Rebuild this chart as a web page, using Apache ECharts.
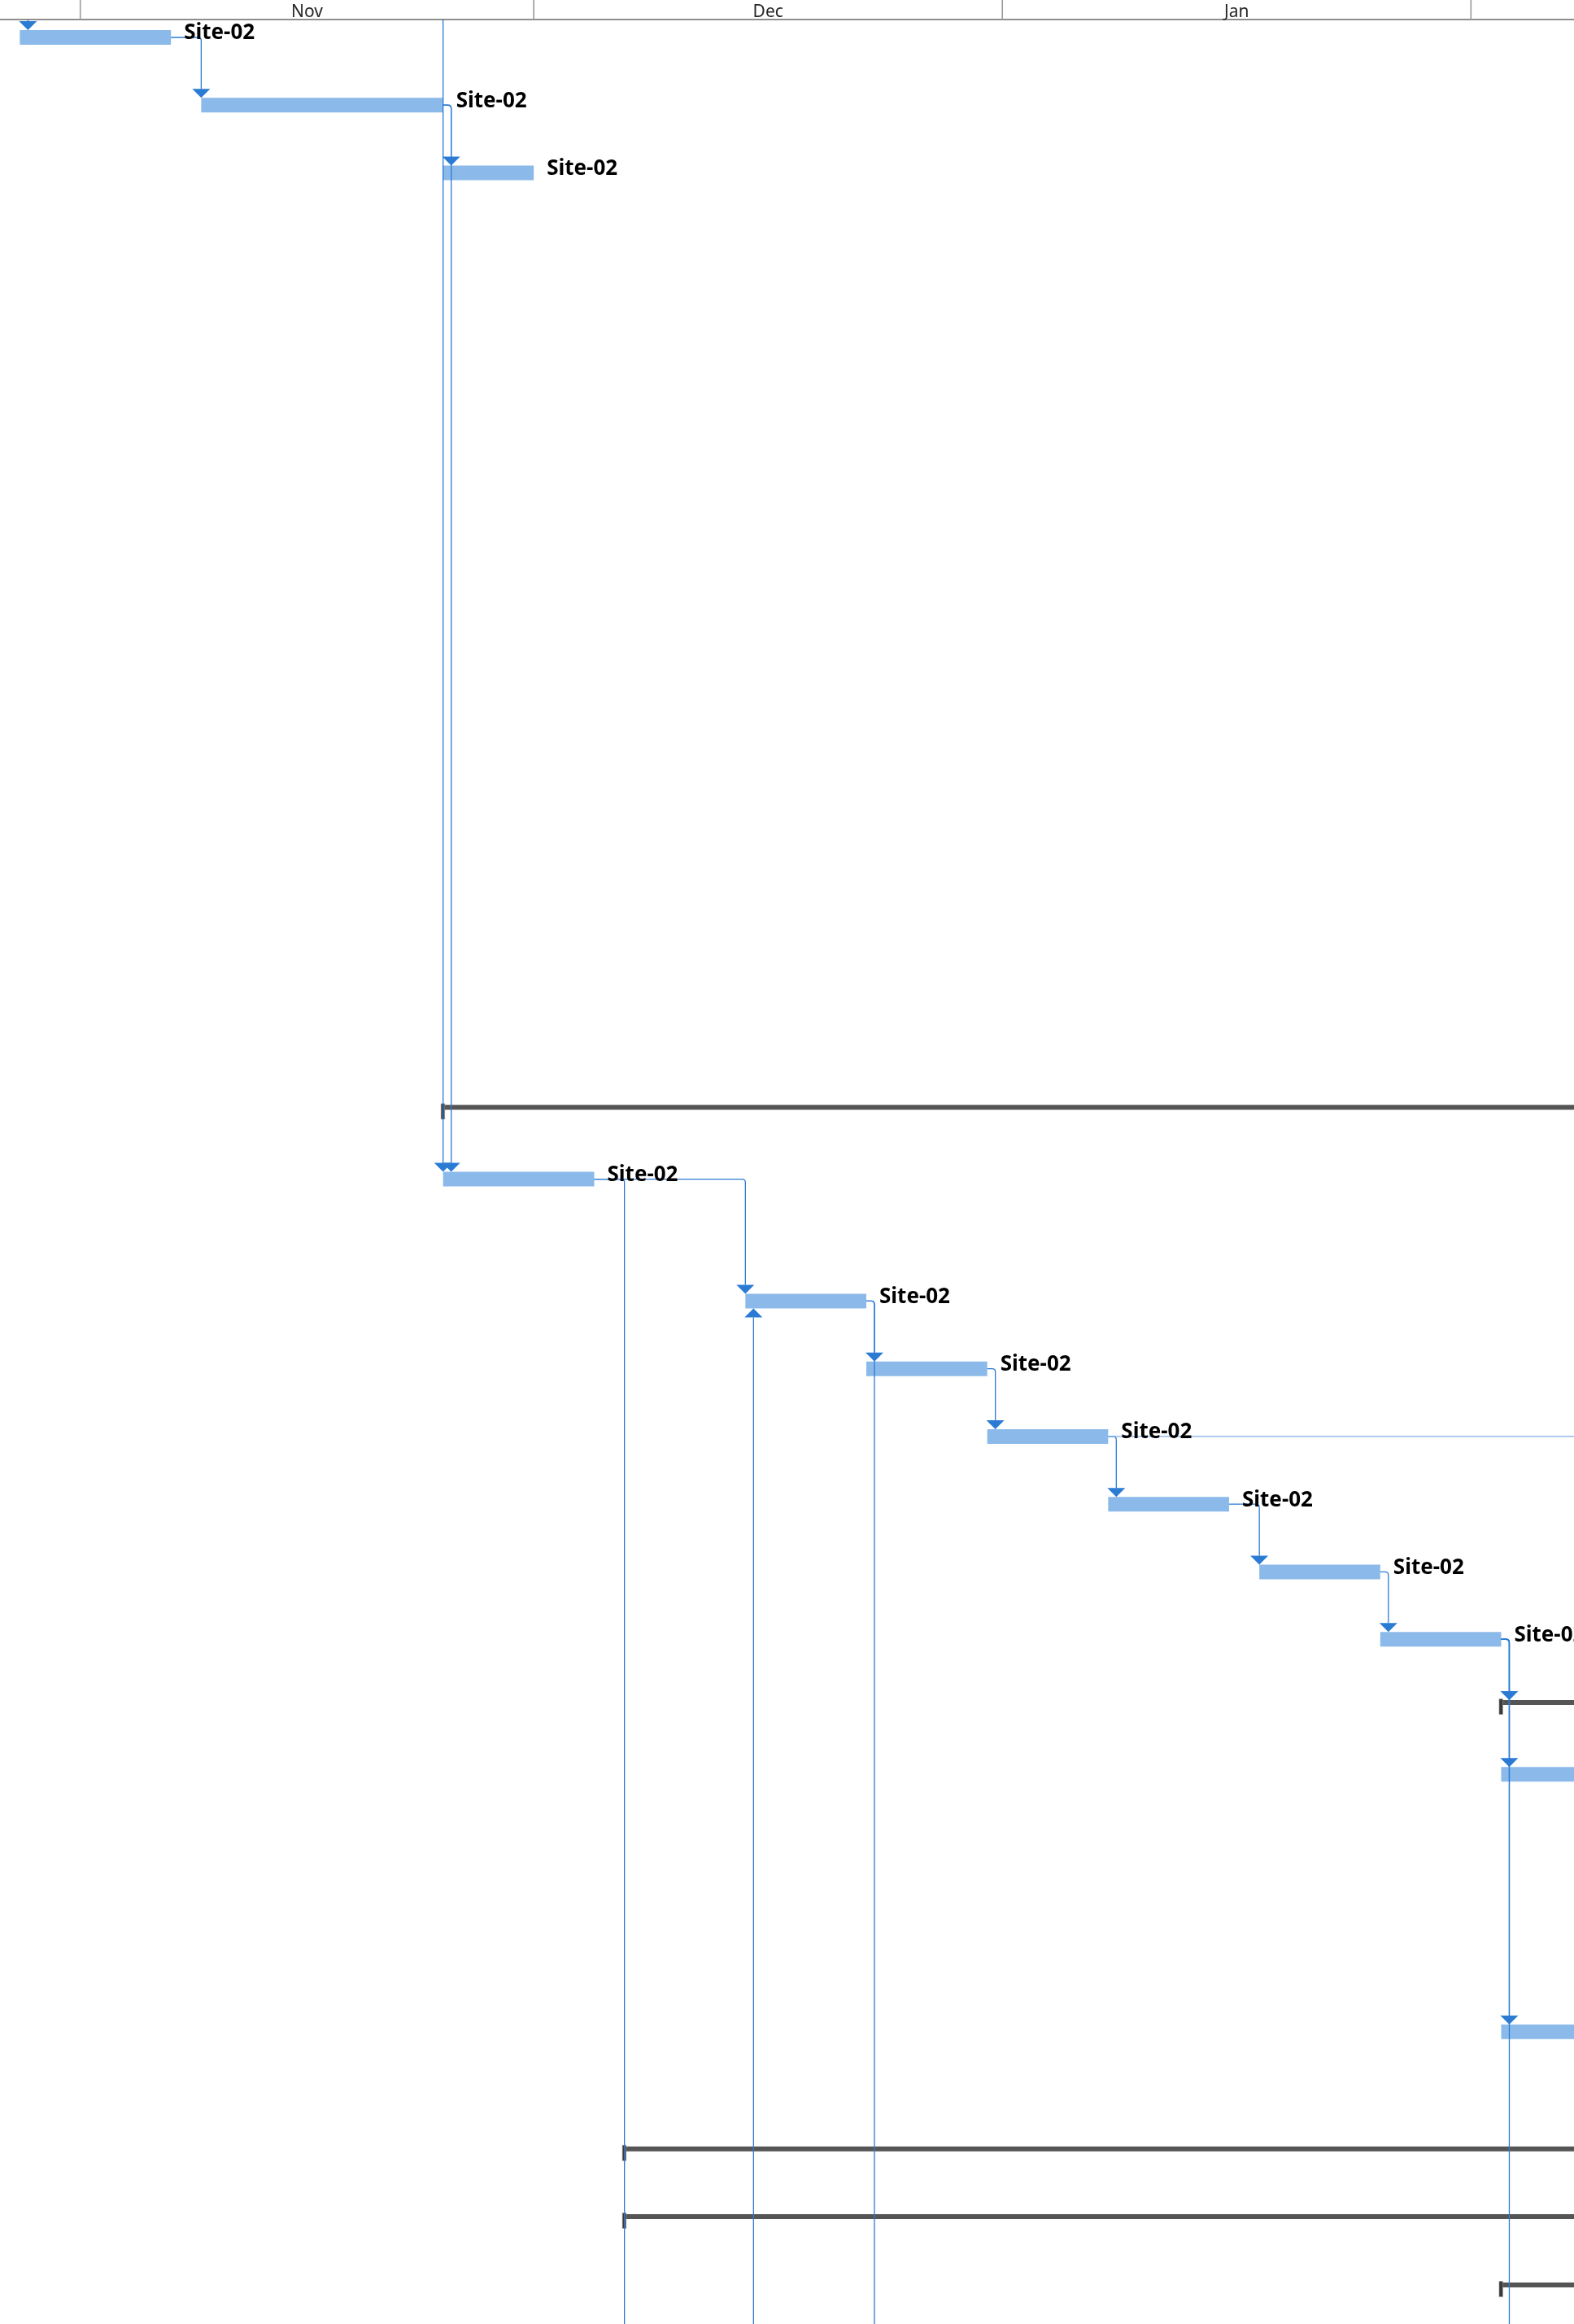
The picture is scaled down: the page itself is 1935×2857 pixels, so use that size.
<!DOCTYPE html>
<html><head><meta charset="utf-8">
<script src="https://cdn.jsdelivr.net/npm/echarts@6/dist/echarts.min.js"></script>
<style>html,body{margin:0;padding:0;background:#fff}#chart{width:1935px;height:2857px}</style>
</head><body><div id="chart"></div>
<script>
function ts(s){const p=s.split('-').map(Number);return Date.UTC(p[0],p[1]-1,p[2]);}
const DAY=86400000;

// Timescale (month tier)
const monthLabels=['Oct','Nov','Dec','Jan','Feb'];
const monthStarts=['2024-10-01','2024-11-01','2024-12-01','2025-01-01','2025-02-01'];
const monthEnds  =['2024-11-01','2024-12-01','2025-01-01','2025-02-01','2025-03-01'];

// Visible window
const viewStart='2024-11-01', viewStartOffsetDays=5.311;
const viewEnd='2025-02-01', viewEndOffsetDays=6.818;

// Tasks (row = position in task-row units, top task = 0)
const taskIds     =['A','B','C','D','E','F','G','H','I','J','K','L'];
const taskStart   =['2024-10-28','2024-11-09','2024-11-25','2024-11-25','2024-12-15','2024-12-23','2024-12-31','2025-01-08','2025-01-18','2025-01-26','2025-02-03','2025-02-03'];
const taskFinish  =['2024-11-07','2024-11-25','2024-12-01','2024-12-05','2024-12-23','2024-12-31','2025-01-08','2025-01-16','2025-01-26','2025-02-03','2025-02-24','2025-02-24'];
const taskRow     =[0,1,2,16.86,18.66,19.66,20.66,21.66,22.66,23.655,25.65,29.45];
const taskResource=['Site-02','Site-02','Site-02','Site-02','Site-02','Site-02','Site-02','Site-02','Site-02','Site-02','Site-02','Site-02'];

// Summary tasks
const summaryIds   =['S1','S2','S3','S4','S5'];
const summaryStart =['2024-11-25','2025-02-03','2024-12-07','2024-12-07','2025-02-03'];
const summaryFinish=['2025-03-20','2025-03-20','2025-03-20','2025-03-20','2025-03-20'];
const summaryRow   =[15.8,24.59,31.18,32.18,33.19];

// Link ends outside the visible area
const extIds   =['X1','X2','X3','X4','X5','X6','X7'];
const extDate  =['2024-10-28','2024-11-24','2024-12-15','2024-12-07','2024-12-23','2025-03-01','2025-02-03'];
const extRow   =[-3,-3,36,36,36,20.66,36];

// Dependency links
const linkFrom=['X1','A','X2','B','B','D','D','X3','E','E','F','G','G','H','I','J','J','J','J'];
const linkTo  =['A','B','D','C','D','E','X4','E','F','X5','G','H','X6','I','J','S2','K','L','X7'];

function node(id){
  let i=taskIds.indexOf(id);
  if(i>=0) return {s:ts(taskStart[i]),f:ts(taskFinish[i]),r:taskRow[i],k:0};
  i=summaryIds.indexOf(id);
  if(i>=0) return {s:ts(summaryStart[i]),f:ts(summaryFinish[i]),r:summaryRow[i],k:1};
  i=extIds.indexOf(id);
  return {s:ts(extDate[i]),f:ts(extDate[i]),r:extRow[i],k:2};
}

const xMin=ts(viewStart)-viewStartOffsetDays*DAY;
const xMax=ts(viewEnd)+viewEndOffsetDays*DAY;
const rowTop=-0.2643, rowBottom=33.766;

const BAR='#8bbaea', LINK='#2b7bd4', SUM='#555555';

const headerData=monthLabels.map((m,i)=>[ts(monthStarts[i]),ts(monthEnds[i]),0]);
const taskData=taskIds.map((id,i)=>[ts(taskStart[i]),ts(taskFinish[i]),taskRow[i]]);
const sumData=summaryIds.map((id,i)=>[ts(summaryStart[i]),ts(summaryFinish[i]),summaryRow[i]]);
const linkData=linkFrom.map((a,i)=>{const A=node(a),B=node(linkTo[i]);return [A.f,B.s,A.r,B.r,B.k];});

const chart=echarts.init(document.getElementById('chart'),null,{renderer:'canvas'});
chart.setOption({
  animation:false,
  backgroundColor:'#ffffff',
  grid:{left:0,right:0,top:24,bottom:0,containLabel:false},
  xAxis:{type:'time',position:'top',min:xMin,max:xMax,
    axisLine:{show:true,onZero:false,lineStyle:{color:'#8e8e8e',width:2}},
    axisTick:{show:false},axisLabel:{show:false},splitLine:{show:false}},
  yAxis:{type:'value',inverse:true,min:rowTop,max:rowBottom,show:false},
  series:[
    {type:'custom',clip:false,z:5,data:headerData,encode:{x:[0,1],y:2},
     renderItem:function(params,api){
       const cs=params.coordSys;
       const x0=api.coord([api.value(0),0])[0];
       const x1=api.coord([api.value(1),0])[0];
       return {type:'group',children:[
         {type:'line',shape:{x1:x0,y1:0,x2:x0,y2:cs.y},style:{stroke:'#9a9a9a',lineWidth:1.6}},
         {type:'text',x:(x0+x1)/2,y:15,style:{text:monthLabels[params.dataIndex],fill:'#262626',font:'21px "Noto Sans"',align:'center',verticalAlign:'middle'}}
       ]};
     }},
    {type:'custom',clip:true,data:sumData,encode:{x:[0,1],y:2},
     renderItem:function(params,api){
       const s=api.coord([api.value(0),api.value(2)]);
       const e=api.coord([api.value(1),api.value(2)]);
       const top=s[1]-3;
       return {type:'group',children:[
         {type:'rect',shape:{x:s[0],y:top,width:e[0]-s[0],height:6},style:{fill:SUM}},
         {type:'rect',shape:{x:s[0]-2.5,y:top-1.5,width:4.5,height:19},style:{fill:'#3a3a3a',stroke:'#9a9a9a',lineWidth:0.6}}
       ]};
     }},
    {type:'custom',clip:true,data:taskData,encode:{x:[0,1],y:2},
     renderItem:function(params,api){
       const s=api.coord([api.value(0),api.value(2)]);
       const e=api.coord([api.value(1),api.value(2)]);
       return {type:'rect',shape:{x:s[0],y:s[1]-9,width:e[0]-s[0],height:18},style:{fill:BAR}};
     }},
    {type:'custom',clip:true,data:linkData,encode:{x:[0,1],y:[2,3]},
     renderItem:function(params,api){
       const p0=api.coord([api.value(0),api.value(2)]);
       const p1=api.coord([api.value(1),api.value(3)]);
       const kind=api.value(4);
       const x0=p0[0],y0=p0[1],xs=p1[0],yc=p1[1];
       const R=4,AH=11,AW=22;
       const ch=[];
       if(Math.abs(yc-y0)<1){
         ch.push({type:'line',shape:{x1:x0,y1:y0,x2:xs,y2:y0},style:{stroke:'#7aaee6',lineWidth:1.2}});
       }else{
         const half=kind===0?9:(kind===1?3:0);
         const vx=Math.max(x0+10,xs);
         const sg=yc>y0?1:-1;
         const yt=yc-sg*half;
         const yEnd=kind===2?yt:yt-sg*AH;
         const d='M'+x0+' '+y0+' L'+(vx-R)+' '+y0+' Q'+vx+' '+y0+' '+vx+' '+(y0+sg*R)+' L'+vx+' '+yEnd;
         ch.push({type:'path',shape:{pathData:d},style:{fill:'none',stroke:LINK,lineWidth:1.3}});
         if(kind!==2){
           ch.push({type:'polygon',shape:{points:[[vx-AW/2,yt-sg*AH],[vx+AW/2,yt-sg*AH],[vx,yt]]},style:{fill:LINK}});
         }
       }
       return {type:'group',children:ch};
     }},
    {type:'custom',clip:true,data:taskData,encode:{x:[0,1],y:2},
     renderItem:function(params,api){
       const e=api.coord([api.value(1),api.value(2)]);
       return {type:'text',x:e[0]+16,y:e[1]-5,style:{text:taskResource[params.dataIndex],fill:'#000',font:'bold 26px "Noto Sans"',align:'left',verticalAlign:'middle'}};
     }}
  ]
});
</script></body></html>
